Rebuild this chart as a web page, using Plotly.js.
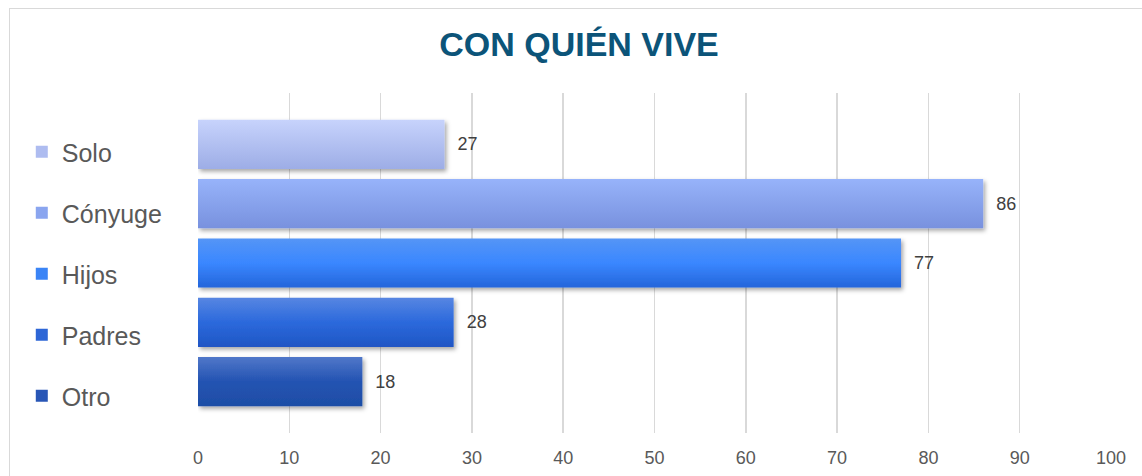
<!DOCTYPE html>
<html>
<head>
<meta charset="utf-8">
<script src="https://cdn.plot.ly/plotly-3.0.1.min.js"></script>
<style>
  html, body { margin: 0; padding: 0; background: #ffffff; }
  #wrap { position: relative; width: 1142px; height: 476px; overflow: hidden; }
  #chart { position: absolute; left: 0; top: 0; width: 1142px; height: 476px; }
  #frame { position: absolute; left: 9px; top: 8px; width: 1200px; height: 600px;
           border: 1.5px solid #d9d9d9; box-sizing: border-box; pointer-events: none; }
</style>
</head>
<body>
<div id="wrap">
  <div id="chart"></div>
  <div id="frame"></div>
</div>
<script>
// ---- data ----
var categories = ['Solo', 'Cónyuge', 'Hijos', 'Padres', 'Otro'];
var values = [27, 86, 77, 28, 18];
var xTicks = [0, 10, 20, 30, 40, 50, 60, 70, 80, 90, 100];
var chartTitle = 'CON QUIÉN VIVE';

// ---- style ----
var baseColors = ['#aebcf0', '#8aa5ef', '#3a84f6', '#2d66d6', '#2856b6'];
var gradStops = [
  [['0%', '#c7d3fc'], ['100%', '#9dade6']],
  [['0%', '#97b3fa'], ['100%', '#7891de']],
  [['0%', '#5595f6'], ['50%', '#3a87ff'], ['100%', '#2465da']],
  [['0%', '#5786e2'], ['50%', '#2b69dc'], ['100%', '#2056c4']],
  [['0%', '#5077c9'], ['50%', '#2353b2'], ['100%', '#1e4ea6']]
];

var FONT = 'Liberation Sans, Arial, sans-serif';
var yOrder = categories.slice().reverse();

var traces = categories.map(function (c, i) {
  return {
    type: 'bar',
    orientation: 'h',
    name: c,
    y: [c],
    x: [values[i]],
    legendgroup: 'g' + i,
    marker: { color: baseColors[i], line: { width: 0 } },
    text: ['\u00a0\u00a0' + values[i]],
    textposition: 'outside',
    cliponaxis: false,
    textfont: { family: FONT, size: 18, color: '#404040' },
    hoverinfo: 'none'
  };
});

var layout = {
  width: 1142,
  height: 476,
  margin: { l: 197.7, r: 31.3, t: 93, b: 43, pad: 0 },
  paper_bgcolor: 'rgba(0,0,0,0)',
  plot_bgcolor: 'rgba(0,0,0,0)',
  barmode: 'overlay',
  bargap: 0.17,
  showlegend: true,
  title: {
    text: '<b>' + chartTitle + '</b>',
    font: { family: FONT, size: 34, color: '#0c5479' },
    xref: 'container', x: 0.507, xanchor: 'center',
    yref: 'container', y: 0.907, yanchor: 'middle'
  },
  xaxis: {
    range: [0, 100],
    tickvals: xTicks,
    ticktext: xTicks.map(String),
    showgrid: true,
    gridcolor: '#d9d9d9',
    gridwidth: 1.5,
    zeroline: false,
    showline: false,
    ticks: '',
    ticklabelstandoff: 12,
    tickfont: { family: FONT, size: 18, color: '#595959' },
    fixedrange: true
  },
  yaxis: {
    type: 'category',
    categoryorder: 'array',
    categoryarray: yOrder,
    range: [-0.865, 4.865],
    showticklabels: false,
    showgrid: false,
    zeroline: false,
    showline: false,
    ticks: '',
    fixedrange: true
  },
  legend: {
    x: -0.193, xanchor: 'left',
    y: 0.894, yanchor: 'top',
    traceorder: 'grouped',
    tracegroupgap: 25.5,
    font: { family: FONT, size: 25, color: '#595959' },
    bgcolor: 'rgba(0,0,0,0)',
    borderwidth: 0,
    itemclick: false,
    itemdoubleclick: false
  }
};

Plotly.newPlot('chart', traces, layout, { displayModeBar: false, staticPlot: true }).then(function (gd) {
  var svgNS = 'http://www.w3.org/2000/svg';
  var svg = gd.querySelector('.main-svg');
  var defs = svg.querySelector('defs');
  if (!defs) { defs = document.createElementNS(svgNS, 'defs'); svg.insertBefore(defs, svg.firstChild); }
  // shadow filter
  var f = document.createElementNS(svgNS, 'filter');
  f.setAttribute('id', 'barShadow');
  f.setAttribute('x', '-5%'); f.setAttribute('y', '-20%');
  f.setAttribute('width', '115%'); f.setAttribute('height', '150%');
  var ds = document.createElementNS(svgNS, 'feDropShadow');
  ds.setAttribute('dx', '2'); ds.setAttribute('dy', '2.5');
  ds.setAttribute('stdDeviation', '2');
  ds.setAttribute('flood-color', '#000'); ds.setAttribute('flood-opacity', '0.35');
  f.appendChild(ds); defs.appendChild(f);
  gradStops.forEach(function (stops, i) {
    var g = document.createElementNS(svgNS, 'linearGradient');
    g.setAttribute('id', 'barGrad' + i);
    g.setAttribute('x1', '0'); g.setAttribute('y1', '0');
    g.setAttribute('x2', '0'); g.setAttribute('y2', '1');
    stops.forEach(function (s) {
      var st = document.createElementNS(svgNS, 'stop');
      st.setAttribute('offset', s[0]); st.setAttribute('stop-color', s[1]);
      g.appendChild(st);
    });
    defs.appendChild(g);
  });
  var tr = gd.querySelectorAll('.barlayer .trace');
  tr.forEach(function (t, i) {
    t.querySelectorAll('path').forEach(function (p) {
      p.style.fill = 'url(#barGrad' + i + ')';
      p.setAttribute('filter', 'url(#barShadow)');
    });
  });
});
</script>
</body>
</html>
